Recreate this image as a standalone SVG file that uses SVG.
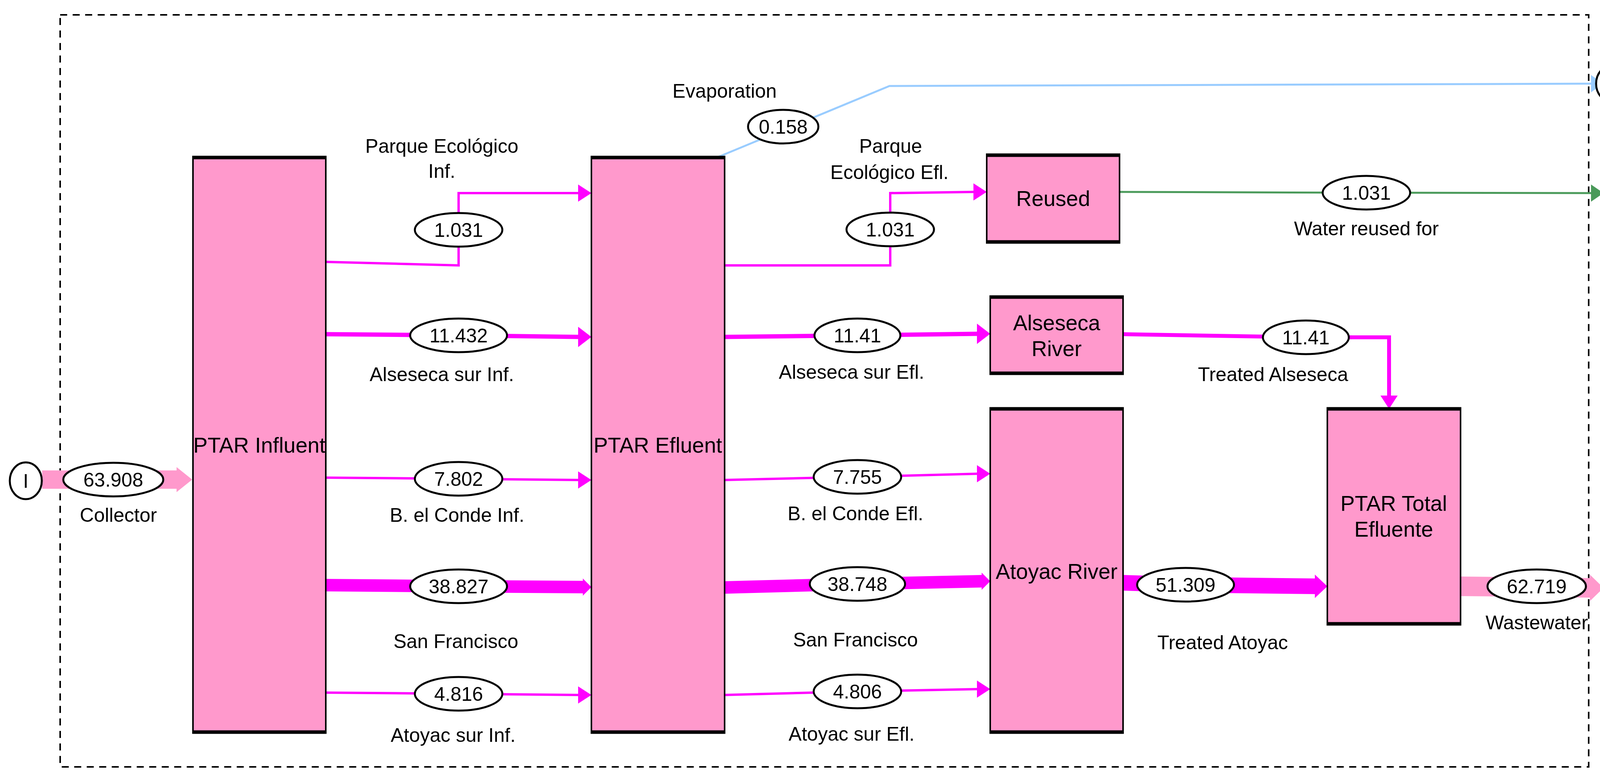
<svg xmlns="http://www.w3.org/2000/svg" width="4231" height="1993" viewBox="0 0 4231 1993">
<style>
.box{fill:#ff99cc;stroke:#000;stroke-width:4}
.bt{stroke:#000;stroke-width:9}
.t{font-family:"Liberation Sans",Arial,sans-serif;font-size:50px;fill:#000;text-anchor:middle}
.bl{font-family:"Liberation Sans",Arial,sans-serif;font-size:55px;fill:#000;text-anchor:middle}
.ov{fill:#fff;stroke:#000;stroke-width:5}
.m{fill:none;stroke:#ff00ff}
.mh{fill:#ff00ff}
</style>
<rect x="154" y="38" width="3913" height="1924" fill="none" stroke="#000" stroke-width="4" stroke-dasharray="18,14"/>
<g id="connectors">
<!-- collector -->
<line x1="108" y1="1227" x2="455" y2="1227" stroke="#ff99cc" stroke-width="47"/>
<polygon points="452,1195 492,1227 452,1259" fill="#ff99cc"/>
<!-- left column -->
<polyline class="m" stroke-width="6" points="834,670 1174,679 1174,494 1482,494"/>
<polygon class="mh" points="1480,472 1514,494 1480,516"/>
<polyline class="m" stroke-width="11" points="834,855 1174,858 1482,862"/>
<polygon class="mh" points="1480,836 1514,862 1480,888"/>
<polyline class="m" stroke-width="6" points="834,1222 1174,1225 1482,1228"/>
<polygon class="mh" points="1480,1206 1514,1228 1480,1250"/>
<polyline class="m" stroke-width="32" points="834,1497 1174,1500 1494,1502"/>
<polygon class="mh" points="1492,1480 1514,1502 1492,1524"/>
<polyline class="m" stroke-width="6" points="834,1772 1174,1775 1482,1778"/>
<polygon class="mh" points="1480,1756 1514,1778 1480,1800"/>
<!-- right column -->
<polyline class="m" stroke-width="6" points="1855,679 2279,679 2279,494 2494,491"/>
<polygon class="mh" points="2492,469 2526,491 2492,513"/>
<polyline class="m" stroke-width="11" points="1855,862 2195,858 2503,854"/>
<polygon class="mh" points="2501,828 2535,854 2501,880"/>
<polyline class="m" stroke-width="6" points="1855,1228 2195,1220 2503,1212"/>
<polygon class="mh" points="2501,1190 2535,1212 2501,1234"/>
<polyline class="m" stroke-width="32" points="1855,1503 2195,1494 2515,1487"/>
<polygon class="mh" points="2513,1465 2535,1487 2513,1509"/>
<polyline class="m" stroke-width="6" points="1855,1778 2195,1769 2503,1763"/>
<polygon class="mh" points="2501,1741 2535,1763 2501,1785"/>
<!-- evaporation -->
<polyline fill="none" stroke="#99ccff" stroke-width="5" points="1835,403 2277,220 4075,214"/>
<polygon fill="#99ccff" points="4073,192 4105,214 4073,236"/>
<!-- reused -->
<polyline fill="none" stroke="#4a9a5a" stroke-width="5" points="2866,491 3498,493 4075,494"/>
<polygon fill="#4a9a5a" points="4073,472 4105,494 4073,516"/>
<!-- alseseca river -->
<polyline class="m" stroke-width="10" points="2875,855 3343,863 3556,863 3556,1014"/>
<polygon class="mh" points="3534,1012 3556,1046 3578,1012"/>
<!-- atoyac river -->
<polyline class="m" stroke-width="40" points="2875,1491 3035,1496 3370,1500"/>
<polygon class="mh" points="3366,1470 3398,1500 3366,1530"/>
<!-- wastewater -->
<line x1="3739" y1="1500" x2="4075" y2="1504" stroke="#ff99cc" stroke-width="50"/>
<polygon fill="#ff99cc" points="4070,1470 4105,1504 4070,1538"/>
</g>
<g id="n-ptar-influent"><rect class="box" x="494" y="403" width="340" height="1470"/><line class="bt" x1="492" y1="403" x2="836" y2="403"/><line class="bt" x1="492" y1="1873" x2="836" y2="1873"/><text class="bl" x="664" y="1158">PTAR Influent</text></g>
<g id="n-ptar-efluent"><rect class="box" x="1514" y="403" width="341" height="1470"/><line class="bt" x1="1512" y1="403" x2="1857" y2="403"/><line class="bt" x1="1512" y1="1873" x2="1857" y2="1873"/><text class="bl" x="1684" y="1158">PTAR Efluent</text></g>
<g id="n-reused"><rect class="box" x="2526" y="397" width="340" height="222"/><line class="bt" x1="2524" y1="397" x2="2868" y2="397"/><line class="bt" x1="2524" y1="619" x2="2868" y2="619"/><text class="bl" x="2696" y="527">Reused</text></g>
<g id="n-alseseca-river"><rect class="box" x="2535" y="760" width="340" height="195"/><line class="bt" x1="2533" y1="760" x2="2877" y2="760"/><line class="bt" x1="2533" y1="955" x2="2877" y2="955"/><text class="bl" x="2705" y="845">Alseseca</text><text class="bl" x="2705" y="911">River</text></g>
<g id="n-atoyac-river"><rect class="box" x="2535" y="1046" width="340" height="827"/><line class="bt" x1="2533" y1="1046" x2="2877" y2="1046"/><line class="bt" x1="2533" y1="1873" x2="2877" y2="1873"/><text class="bl" x="2705" y="1481">Atoyac River</text></g>
<g id="n-ptar-total"><rect class="box" x="3398" y="1046" width="341" height="550"/><line class="bt" x1="3396" y1="1046" x2="3741" y2="1046"/><line class="bt" x1="3396" y1="1596" x2="3741" y2="1596"/><text class="bl" x="3568" y="1307">PTAR Total</text><text class="bl" x="3568" y="1373">Efluente</text></g>
<g id="n-I"><ellipse class="ov" cx="66" cy="1230" rx="41" ry="47"/><text class="t" x="66" y="1248">I</text></g>
<g id="n-E1"><ellipse class="ov" cx="4127" cy="214" rx="41" ry="47"/><text class="t" x="4127" y="232">E</text></g>
<g id="n-E2"><ellipse class="ov" cx="4150" cy="495" rx="41" ry="47"/><text class="t" x="4150" y="513">E</text></g>
<g id="n-E3"><ellipse class="ov" cx="4150" cy="1506" rx="41" ry="47"/><text class="t" x="4150" y="1524">E</text></g>
<g id="labels">
<ellipse class="ov" cx="290" cy="1227" rx="128" ry="43"/><text class="t" x="290" y="1245">63.908</text><text class="t" x="303" y="1335">Collector</text>
<ellipse class="ov" cx="1174" cy="588" rx="112" ry="43"/><text class="t" x="1174" y="606">1.031</text><text class="t" x="1131" y="391">Parque Ecológico</text><text class="t" x="1131" y="455">Inf.</text>
<ellipse class="ov" cx="1174" cy="858" rx="124" ry="43"/><text class="t" x="1174" y="876">11.432</text><text class="t" x="1131" y="975">Alseseca sur Inf.</text>
<ellipse class="ov" cx="1174" cy="1225" rx="112" ry="43"/><text class="t" x="1174" y="1243">7.802</text><text class="t" x="1170" y="1335">B. el Conde Inf.</text>
<ellipse class="ov" cx="1174" cy="1500" rx="124" ry="43"/><text class="t" x="1174" y="1518">38.827</text><text class="t" x="1167" y="1658">San Francisco</text>
<ellipse class="ov" cx="1174" cy="1775" rx="112" ry="43"/><text class="t" x="1174" y="1793">4.816</text><text class="t" x="1160" y="1898">Atoyac sur Inf.</text>
<ellipse class="ov" cx="2005" cy="324" rx="90" ry="43"/><text class="t" x="2005" y="342">0.158</text><text class="t" x="1855" y="250">Evaporation</text>
<ellipse class="ov" cx="2279" cy="587" rx="112" ry="43"/><text class="t" x="2279" y="605">1.031</text><text class="t" x="2280" y="391">Parque</text><text class="t" x="2277" y="458">Ecológico Efl.</text>
<ellipse class="ov" cx="2195" cy="858" rx="110" ry="43"/><text class="t" x="2195" y="876">11.41</text><text class="t" x="2180" y="969">Alseseca sur Efl.</text>
<ellipse class="ov" cx="2195" cy="1220" rx="112" ry="43"/><text class="t" x="2195" y="1238">7.755</text><text class="t" x="2190" y="1331">B. el Conde Efl.</text>
<ellipse class="ov" cx="2195" cy="1494" rx="122" ry="43"/><text class="t" x="2195" y="1512">38.748</text><text class="t" x="2190" y="1654">San Francisco</text>
<ellipse class="ov" cx="2195" cy="1769" rx="112" ry="43"/><text class="t" x="2195" y="1787">4.806</text><text class="t" x="2180" y="1895">Atoyac sur Efl.</text>
<ellipse class="ov" cx="3498" cy="493" rx="112" ry="43"/><text class="t" x="3498" y="511">1.031</text><text class="t" x="3498" y="602">Water reused for</text>
<ellipse class="ov" cx="3343" cy="863" rx="110" ry="43"/><text class="t" x="3343" y="881">11.41</text><text class="t" x="3259" y="975">Treated Alseseca</text>
<ellipse class="ov" cx="3035" cy="1496" rx="124" ry="43"/><text class="t" x="3035" y="1514">51.309</text><text class="t" x="3130" y="1661">Treated Atoyac</text>
<ellipse class="ov" cx="3934" cy="1500" rx="126" ry="43"/><text class="t" x="3934" y="1518">62.719</text><text class="t" x="3934" y="1610">Wastewater</text>
</g>
</svg>
